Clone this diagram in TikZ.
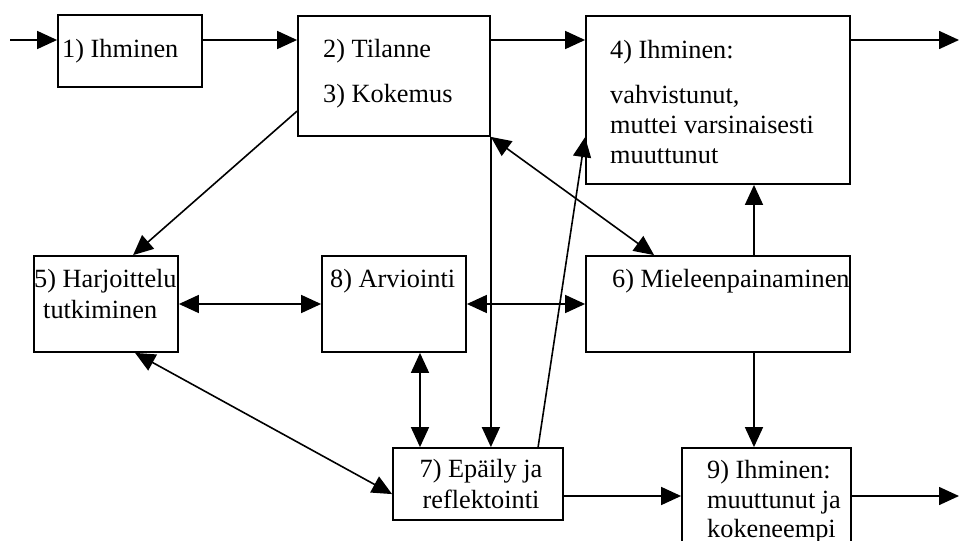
\documentclass[tikz,border=0pt]{standalone}
\usepackage{fontspec}
\setmainfont{Liberation Serif}
\usetikzlibrary{arrows.meta,calc}

\tikzset{
  box/.style={draw, line width=1.8pt, inner sep=0pt},
  txt/.style={anchor=base west, inner sep=0pt, font=\fontsize{26.3}{30}\selectfont},
  link/.style={line width=1.6pt}
}

\begin{document}
\begin{tikzpicture}[x=1pt, y=-1pt, >={Triangle[length=20pt,width=18pt]}]

  % Fix the size of the picture
  \useasboundingbox (0,0) rectangle (959,541);

  % Top row of boxes
  \node[box, minimum width=144pt, minimum height=72pt] (b1) at (130,51) {};
  \node[box, minimum width=192pt, minimum height=120pt] (b2) at (394,76) {};
  \node[box, minimum width=264pt, minimum height=168pt] (b4) at (718,100) {};

  % Middle row of boxes
  \node[box, minimum width=144pt, minimum height=96pt] (b5) at (106,304) {};
  \node[box, minimum width=144pt, minimum height=96pt] (b8) at (394,304) {};
  \node[box, minimum width=264pt, minimum height=96pt] (b6) at (718,304) {};

  % Bottom row of boxes
  \node[box, minimum width=170pt, minimum height=72pt] (b7) at (478,484) {};
  \node[box, minimum width=169pt, minimum height=104pt] (b9) at (766.5,500) {};

  % Texts in the boxes
  \node[txt] (t1) at (62,57) {1) Ihminen};
  \node[txt] (t2) at (323,57) {2) Tilanne};
  \node[txt] (t3) at (323,102) {3) Kokemus};
  \node[txt] (t4a) at (610,58) {4) Ihminen:};
  \node[txt] (t4b) at (610,103) {vahvistunut,};
  \node[txt] (t4c) at (610,133) {muttei varsinaisesti};
  \node[txt] (t4d) at (610,163) {muuttunut};
  \node[txt] (t5a) at (34,287) {5) Harjoittelu};
  \node[txt] (t5b) at (43,318) {tutkiminen};
  \node[txt] (t8) at (330,287) {8) Arviointi};
  \node[txt] (t6) at (612,287) {6) Mieleenpainaminen};
  \node[txt, anchor=base] (t7a) at (481,477) {7) Epäily ja};
  \node[txt, anchor=base] (t7b) at (481,508) {reflektointi};
  \node[txt] (t9a) at (707,478) {9) Ihminen:};
  \node[txt] (t9b) at (707,508) {muuttunut ja};
  \node[txt] (t9c) at (707,537) {kokeneempi};

  % Helper points
  \coordinate (in) at (10,40);
  \coordinate (out1) at (959,40);
  \coordinate (out2) at (959,496);
  \coordinate (m6) at ($(b6.north)+(36,0)$);
  \coordinate (m8) at ($(b8.south)+(26,0)$);

  % Main line along the top
  \draw[link,->] (in) -- (in -| b1.west);
  \draw[link,->] (in -| b1.east) -- (in -| b2.west);
  \draw[link,->] (in -| b2.east) -- (in -| b4.west);
  \draw[link,->] (out1 -| b4.east) -- (out1);

  % From the situation box downwards
  \draw[link,->] ($(b2.north west)+(0,96)$) -- ($(b5.north west)+(100,0)$);
  \draw[link,<->] (b2.south east) -- ($(b6.north west)+(69,0)$);
  \draw[link,->] (b2.south east) -- (b2.south east |- b7.north);

  % Up to box 4
  \draw[link,->] ($(b7.north west)+(146,0)$) -- ($(b4.north west)+(0,122)$);
  \draw[link,->] (m6) -- (m6 |- b4.south);

  % Middle row
  \draw[link,<->] (b5.east) -- (b8.west);
  \draw[link,<->] (b8.east) -- (b6.west);
  \draw[link,<->] (m8) -- (m8 |- b7.north);
  \draw[link,<->] ($(b5.south west)+(102,0)$) -- ($(b7.north west)+(0,47)$);

  % Bottom row
  \draw[link,->] (m6 |- b6.south) -- (m6 |- b9.north);
  \draw[link,->] (out2 -| b7.east) -- (out2 -| b9.west);
  \draw[link,->] (out2 -| b9.east) -- (out2);

\end{tikzpicture}
\end{document}
